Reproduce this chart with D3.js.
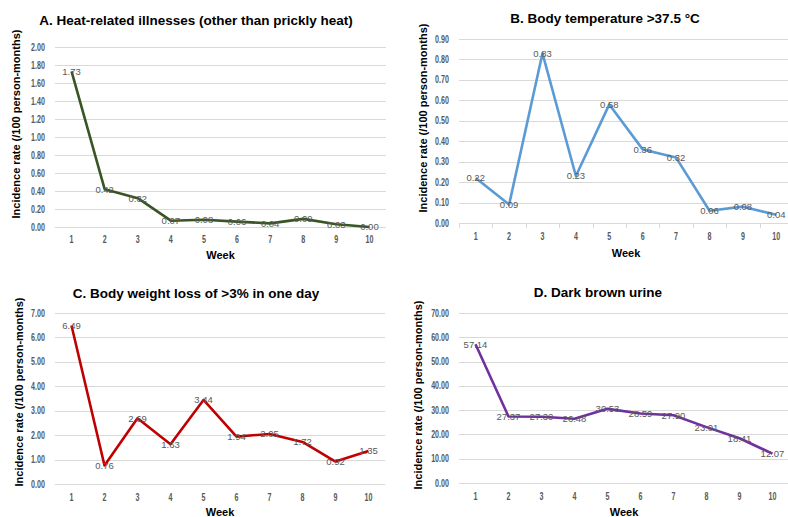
<!DOCTYPE html>
<html>
<head>
<meta charset="utf-8">
<script src="https://cdn.jsdelivr.net/npm/d3@7"></script>
<style>
  body { margin: 0; background: #fff; }
  svg { display: block; font-family: "Liberation Sans", Arial, sans-serif; }
</style>
</head>
<body>
<svg id="chart" width="788" height="517"></svg>
<script>
// data
const weeks = [1, 2, 3, 4, 5, 6, 7, 8, 9, 10];
const heatIllness = [1.73, 0.42, 0.32, 0.07, 0.08, 0.06, 0.04, 0.09, 0.03, 0.00];
const bodyTemp = [0.22, 0.09, 0.83, 0.23, 0.58, 0.36, 0.32, 0.06, 0.08, 0.04];
const weightLoss = [6.49, 0.76, 2.69, 1.63, 3.44, 1.94, 2.05, 1.72, 0.92, 1.35];
const darkUrine = [57.14, 27.37, 27.30, 26.48, 30.53, 28.59, 27.90, 23.01, 18.41, 12.07];

const ticksA = [0, 0.2, 0.4, 0.6, 0.8, 1.0, 1.2, 1.4, 1.6, 1.8, 2.0];
const ticksB = [0, 0.1, 0.2, 0.3, 0.4, 0.5, 0.6, 0.7, 0.8, 0.9];
const ticksC = [0, 1, 2, 3, 4, 5, 6, 7];
const ticksD = [0, 10, 20, 30, 40, 50, 60, 70];

const yLabel = 'Incidence rate (/100 person-months)';
const xLabel = 'Week';

const svg = d3.select('#chart');

// layout of each panel (pixels)
const panels = [
  { title: 'A. Heat-related illnesses (other than prickly heat)', values: heatIllness, ticks: ticksA, colour: '#375623',
    left: 55, right: 386, top: 47, bottom: 227, titleX: 196, titleY: 25, tickY: 243, weekY: 259, yTitleX: 20, yTitleY: 124, tickMarks: false },
  { title: 'B. Body temperature >37.5 \u00B0C', values: bodyTemp, ticks: ticksB, colour: '#5B9BD5',
    left: 459, right: 793, top: 39, bottom: 223, titleX: 605, titleY: 23, tickY: 240, weekY: 257, yTitleX: 427, yTitleY: 118, tickMarks: true },
  { title: 'C. Body weight loss of >3% in one day', values: weightLoss, ticks: ticksC, colour: '#C00000',
    left: 55, right: 385, top: 313, bottom: 484, titleX: 196, titleY: 298, tickY: 501, weekY: 516, yTitleX: 23, yTitleY: 392, tickMarks: false },
  { title: 'D. Dark brown urine', values: darkUrine, ticks: ticksD, colour: '#7030A0',
    left: 459, right: 789, top: 313, bottom: 483, titleX: 598, titleY: 297, tickY: 500, weekY: 516, yTitleX: 422, yTitleY: 395, tickMarks: false }
];

const tickStyle = sel => sel
  .attr('font-size', 10.5)
  .attr('font-weight', 'bold')
  .attr('fill', '#595959');

panels.forEach(p => {
  const g = svg.append('g');

  const xScale = d3.scaleBand()
    .domain(weeks)
    .range([p.left, p.right]);

  const yScale = d3.scaleLinear()
    .domain([0, d3.max(p.ticks)])
    .range([p.bottom, p.top]);

  const xMid = d => xScale(d) + xScale.bandwidth() / 2;

  // gridlines
  g.append('g').selectAll('line')
    .data(p.ticks)
    .join('line')
      .attr('x1', p.left)
      .attr('x2', p.right)
      .attr('y1', d => Math.round(yScale(d)) + 0.5)
      .attr('y2', d => Math.round(yScale(d)) + 0.5)
      .attr('stroke', '#d9d9d9')
      .attr('stroke-width', 1);

  // tick marks on the category axis (only panel B has them)
  if (p.tickMarks) {
    g.append('g').selectAll('line')
      .data(weeks.concat(['end']))
      .join('line')
        .attr('x1', d => Math.round(d === 'end' ? p.right : xScale(d)) + 0.5)
        .attr('x2', d => Math.round(d === 'end' ? p.right : xScale(d)) + 0.5)
        .attr('y1', Math.round(p.bottom) + 0.5)
        .attr('y2', Math.round(p.bottom) + 5)
        .attr('stroke', '#d9d9d9');
  }

  // y tick labels (narrow, like the original)
  g.append('g').selectAll('text')
    .data(p.ticks)
    .join('text')
      .attr('transform', d => `translate(${p.left - 10},${yScale(d) + 3.6}) scale(0.68,1)`)
      .attr('text-anchor', 'end')
      .call(tickStyle)
      .text(d => d3.format('.2f')(d));

  // x tick labels
  g.append('g').selectAll('text')
    .data(weeks)
    .join('text')
      .attr('transform', d => `translate(${xMid(d)},${p.tickY}) scale(0.68,1)`)
      .attr('text-anchor', 'middle')
      .call(tickStyle)
      .text(d => d);

  // line
  const line = d3.line()
    .x((d, i) => xMid(weeks[i]))
    .y(d => yScale(d));

  g.append('path')
    .datum(p.values)
    .attr('d', line)
    .attr('fill', 'none')
    .attr('stroke', p.colour)
    .attr('stroke-width', 2.6)
    .attr('stroke-linejoin', 'round');

  // data labels centred on the points
  g.append('g').selectAll('text')
    .data(p.values)
    .join('text')
      .attr('x', (d, i) => xMid(weeks[i]))
      .attr('y', d => yScale(d) + 3.4)
      .attr('text-anchor', 'middle')
      .attr('font-size', 9.5)
      .attr('fill', '#595959')
      .text(d => d3.format('.2f')(d));

  // titles
  g.append('text')
    .attr('x', p.titleX)
    .attr('y', p.titleY)
    .attr('text-anchor', 'middle')
    .attr('font-size', 13.5)
    .attr('font-weight', 'bold')
    .attr('fill', '#000')
    .text(p.title);

  g.append('text')
    .attr('x', (p.left + p.right) / 2)
    .attr('y', p.weekY)
    .attr('text-anchor', 'middle')
    .attr('font-size', 11)
    .attr('font-weight', 'bold')
    .attr('fill', '#000')
    .text(xLabel);

  g.append('text')
    .attr('transform', `translate(${p.yTitleX},${p.yTitleY}) rotate(-90)`)
    .attr('text-anchor', 'middle')
    .attr('font-size', 11)
    .attr('font-weight', 'bold')
    .attr('fill', '#000')
    .text(yLabel);
});
</script>
</body>
</html>
